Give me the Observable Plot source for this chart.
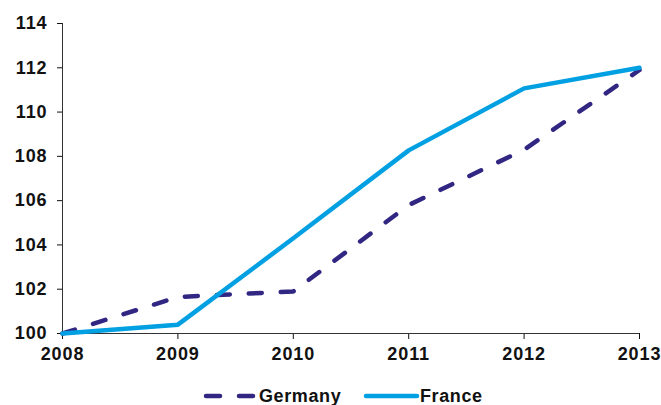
<!DOCTYPE html>
<html>
<head>
<meta charset="utf-8">
<script src="https://cdn.jsdelivr.net/npm/d3@7"></script>
<script src="https://cdn.jsdelivr.net/npm/@observablehq/plot@0.6"></script>
<style>
  html, body { margin: 0; padding: 0; background: #fff; }
  body { width: 661px; height: 405px; overflow: hidden; font-family: "Liberation Sans", Arial, sans-serif; }
  #chart svg text { letter-spacing: 0.9px; }
  #legend { position: relative; height: 30px; font-weight: bold; font-size: 18px; letter-spacing: 0.6px; color: #111; }
  #legend .sw { position: absolute; top: 16px; }
  #legend .lbl { position: absolute; top: 11px; line-height: 20px; }
</style>
</head>
<body>
<div id="chart"></div>
<div id="legend"></div>
<script>
const years = [2008, 2009, 2010, 2011, 2012, 2013];
const germany = [100, 101.65, 101.9, 105.8, 108.3, 111.9];
const france = [100, 100.4, 104.3, 108.27, 111.07, 112.0];
const yTicks = [100, 102, 104, 106, 108, 110, 112, 114];
const seriesNames = ["Germany", "France"];
const colors = {Germany: "#312783", France: "#00A0E2"};

const rows = [];
years.forEach((y, i) => {
  rows.push({year: y, value: germany[i], series: "Germany"});
  rows.push({year: y, value: france[i], series: "France"});
});

const plot = Plot.plot({
  width: 661,
  height: 375,
  marginLeft: 62,
  marginRight: 22,
  marginTop: 23,
  marginBottom: 42,
  style: {fontFamily: "'Liberation Sans', Arial, sans-serif", fontSize: "18px", fontWeight: "bold", color: "#111", background: "#fff"},
  x: {domain: [2008, 2013], ticks: years, tickFormat: d3.format("d"), tickSize: 6, tickPadding: 8, label: null},
  y: {domain: [100, 114], ticks: yTicks, tickSize: 5, tickPadding: 10, label: null},
  marks: [
    Plot.ruleX([2008], {stroke: "#333", strokeWidth: 1}),
    Plot.ruleY([100], {stroke: "#333", strokeWidth: 1}),
    Plot.lineY(rows.filter(d => d.series === "Germany"), {x: "year", y: "value", stroke: colors.Germany, strokeWidth: 4.5, strokeDasharray: "13,19", strokeLinecap: "round", strokeLinejoin: "round"}),
    Plot.lineY(rows.filter(d => d.series === "France"), {x: "year", y: "value", stroke: colors.France, strokeWidth: 4.5, strokeLinejoin: "round"})
  ]
});
document.getElementById("chart").appendChild(plot);

const legend = document.getElementById("legend");
const legendPos = {Germany: {sw: 202, lbl: 259}, France: {sw: 362, lbl: 420}};
seriesNames.forEach(name => {
  const dashed = name === "Germany";
  const sw = document.createElement("div");
  sw.className = "sw";
  sw.style.left = legendPos[name].sw + "px";
  sw.innerHTML = `<svg width="58" height="10" style="display:block"><line x1="4" y1="5" x2="55" y2="5" stroke="${colors[name]}" stroke-width="4.5" stroke-linecap="round" ${dashed ? 'stroke-dasharray="14,19"' : ''}/></svg>`;
  legend.appendChild(sw);
  const lbl = document.createElement("div");
  lbl.className = "lbl";
  lbl.style.left = legendPos[name].lbl + "px";
  lbl.textContent = name;
  legend.appendChild(lbl);
});
</script>
</body>
</html>
